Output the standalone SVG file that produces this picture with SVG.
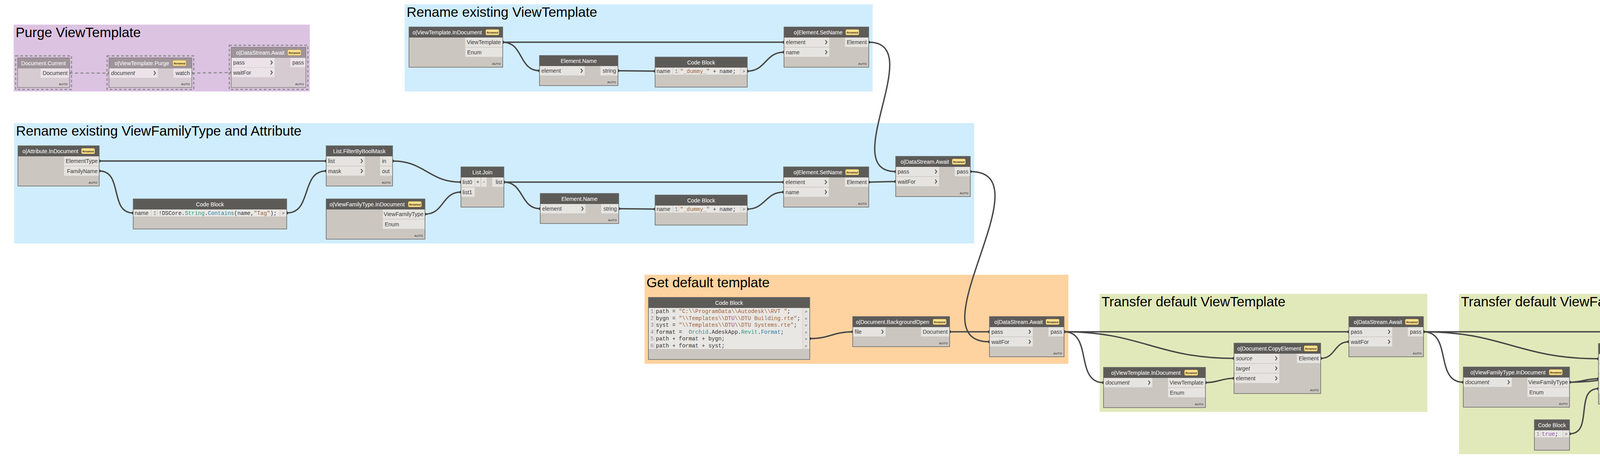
<svg xmlns="http://www.w3.org/2000/svg" width="7160" height="1218" viewBox="0 0 7160 1218">
<defs>
<marker id="k" markerWidth="10" markerHeight="10" refX="5" refY="5" markerUnits="userSpaceOnUse"><circle cx="5" cy="5" r="3.8" fill="#3a3a3a"/></marker>
<marker id="kg" markerWidth="10" markerHeight="10" refX="5" refY="5" markerUnits="userSpaceOnUse"><circle cx="5" cy="5" r="3.5" fill="#8a8a8a"/></marker>
<style>
.gP{fill:#dcc3e2}.gB{fill:#d0edfd}.gO{fill:#fed3a0}.gG{fill:#e1e9bb}
.gt{font-family:"Liberation Sans",Arial,sans-serif;font-size:35px;fill:#000}
.b{fill:#cbc6c0}.h{fill:#5d5b58}.o{fill:none;stroke:#666;stroke-width:1.5}
.p{fill:#e6e4e0}.ca{fill:#e9e7e4}
.t{font-family:"Liberation Sans",Arial,sans-serif;font-size:14px;fill:#fff}
.c{text-anchor:middle}.r{text-anchor:end}.i{font-style:italic}
.l{font-family:"Liberation Sans",Arial,sans-serif;font-size:14px;fill:#3c3c3c}
.a{font-family:"Liberation Sans",Arial,sans-serif;font-size:8px;font-weight:bold;fill:#555;text-anchor:end}
.bg{fill:#fde08c;stroke:#c9a449;stroke-width:0.8}
.bt{font-family:"Liberation Sans",Arial,sans-serif;font-size:6.5px;font-style:italic;font-weight:bold;fill:#3a3020;text-anchor:middle}
.v{fill:none;stroke:#555;stroke-width:2.2}
.m{font-family:"Liberation Mono","Courier New",monospace;font-size:14px;fill:#333}
.n{fill:#8a8a8a}.s{fill:#a0643c}.k1{fill:#2a9a8a}.k2{fill:#2b7fa8}.kw{fill:#8b4fb3}
.sp{stroke:#aaa;stroke-width:1;stroke-dasharray:2 2}
.gtx{font-family:"Liberation Sans",Arial,sans-serif;font-size:11px;fill:#555}
.fb{fill:#d6cbd1}.fh{fill:#9e9499}.fp{fill:#ebe3e8}.fo{fill:none;stroke:#857b80;stroke-width:1.5}
.sel{fill:none;stroke:#8e8e8e;stroke-width:3;stroke-dasharray:7 5}
.cn{fill:none;stroke:#464646;stroke-width:3.5;marker-start:url(#k);marker-end:url(#k)}
.dn{fill:none;stroke:#8f8f8f;stroke-width:3;stroke-dasharray:8 6;marker-start:url(#kg);marker-end:url(#kg)}
</style>
</defs>
<rect width="7160" height="1218" fill="#ffffff"/>

<g id="grp_purge"><rect class="gP" x="35" y="63" width="758" height="171"/><text class="gt" x="40" y="95">Purge ViewTemplate</text></g>
<g id="grp_rename_vt"><rect class="gB" x="1036" y="11" width="1198" height="223"/><text class="gt" x="1041" y="43">Rename existing ViewTemplate</text></g>
<g id="grp_rename_vft"><rect class="gB" x="36" y="315" width="2458" height="308"/><text class="gt" x="41" y="347">Rename existing ViewFamilyType and Attribute</text></g>
<g id="grp_get_default"><rect class="gO" x="1650" y="703" width="1085" height="228"/><text class="gt" x="1655" y="735">Get default template</text></g>
<g id="grp_transfer_vt"><rect class="gG" x="2815" y="752" width="839" height="302"/><text class="gt" x="2820" y="784">Transfer default ViewTemplate</text></g>
<g id="grp_transfer_vft"><rect class="gG" x="3735" y="752" width="920" height="410"/><text class="gt" x="3740" y="784">Transfer default ViewFamilyType</text></g>
<g id="grp_click"><rect class="gG" x="4335" y="365" width="2013" height="306"/><text class="gt" x="4340" y="397">&lt;Click here to edit the group title&gt;</text></g>
<g id="grp_transfer_attr"><rect class="gG" x="4736" y="875" width="1379" height="332"/><text class="gt" x="4741" y="907">Transfer default Attribute</text></g>
<g id="grp_close"><rect class="gO" x="6375" y="752" width="760" height="269"/><text class="gt" x="6380" y="784">Close default Template</text></g>

<g id="connectors">
<path class="dn" d="M178,187L279,187"/>
<path class="dn" d="M491,187L592,185.5"/>
<path class="cn" d="M1287,108L2007,108"/>
<path class="cn" d="M1287,108C1341,108 1327,181 1381,181"/>
<path class="cn" d="M1582,181L1677,182"/>
<path class="cn" d="M1913,182C1961,182 1959,133.5 2007,133.5"/>
<path class="cn" d="M2224,108C2376,108 2141,439 2293,439"/>
<path class="cn" d="M254,412L835,412"/>
<path class="cn" d="M254,437.5C316,437.5 279,545 341,545"/>
<path class="cn" d="M734,545C800,545 769,437.5 835,437.5"/>
<path class="cn" d="M1005,412C1087,412 1098,466 1180,466"/>
<path class="cn" d="M1088,548C1137,548 1131,491.5 1180,491.5"/>
<path class="cn" d="M1290,466L2006,466"/>
<path class="cn" d="M1290,466C1342,466 1331,534 1383,534"/>
<path class="cn" d="M1584,534L1677,535"/>
<path class="cn" d="M1913,535C1959,535 1960,491.5 2006,491.5"/>
<path class="cn" d="M2224,466L2293,464.5"/>
<path class="cn" d="M2484,439C2681,439 2336,874.5 2533,874.5"/>
<path class="cn" d="M2073,866.5C2123,866.5 2133,849 2183,849"/>
<path class="cn" d="M2431,849L2533,849"/>
<path class="cn" d="M2724,849L3453,849"/>
<path class="cn" d="M2724,849C2922,849 2961,917 3159,917"/>
<path class="cn" d="M2724,849C2798,849 2751,979 2825,979"/>
<path class="cn" d="M3086,979C3119,979 3126,968 3159,968"/>
<path class="cn" d="M3381,917C3419,917 3415,874.5 3453,874.5"/>
<path class="cn" d="M3644,849L4454,849"/>
<path class="cn" d="M3644,849C3848,849 3888,918 4092,918"/>
<path class="cn" d="M3644,849C3718,849 3672,978 3746,978"/>
<path class="cn" d="M4018,978C4051,978 4059,969 4092,969"/>
<path class="cn" d="M4018,978C4410,978 4410,596 4802,596"/>
<path class="cn" d="M4018,1110C4080,1110 4030,994.5 4092,994.5"/>
<path class="cn" d="M4381,918C4419,918 4416,874.5 4454,874.5"/>
<path class="cn" d="M4381,918C5031,918 5102,462 5752,462"/>
<path class="cn" d="M4645,849L6385,849"/>
<path class="cn" d="M4645,849C5175,849 5286,972 5816,972"/>
<path class="cn" d="M4645,849C4736,849 4654,1024 4745,1024"/>
<path class="cn" d="M5000,1024L5561,1024"/>
<path class="cn" d="M5000,1049.5C5044,1049.5 5041,1096 5085,1096"/>
<path class="cn" d="M5478,1096C5521,1096 5518,1049.5 5561,1049.5"/>
<path class="cn" d="M5732,1024L5816,1023"/>
<path class="cn" d="M5732,1155C5793,1155 5755,1048.5 5816,1048.5"/>
<path class="cn" d="M6106,972L6655,971.5"/>
<path class="cn" d="M4700,556C4754,556 4748,621.5 4802,621.5"/>
<path class="cn" d="M4700,556C5174,556 5278,487.5 5752,487.5"/>
<path class="cn" d="M5033,596L5135,596"/>
<path class="cn" d="M5349,596L5450,596"/>
<path class="cn" d="M5651,596L5752,596"/>
<path class="cn" d="M5991,596C6043,596 6040,541.5 6092,541.5"/>
<path class="cn" d="M5985,462C6039,462 6038,516 6092,516"/>
<path class="cn" d="M6338,516C6501,516 6222,874.5 6385,874.5"/>
<path class="cn" d="M6576,849C6632,849 6599,946 6655,946"/>
<path class="cn" d="M6846,946L6908,946"/>
</g>

<g id="n_document_current" transform="translate(45,148)">
<rect class="fb" width="133" height="76"/><rect class="fh" width="133" height="27"/>
<text class="t c" x="66.5" y="18.5">Document.Current</text>
<rect class="fp" x="59" y="27" width="74" height="24"/><text class="l r" x="128" y="44">Document</text>
<text class="a" x="128" y="70">AUTO</text>
<rect class="fo" width="133" height="76"/><rect class="sel" x="-5" y="-5" width="143" height="86"/>
</g>
<g id="n_viewtemplate_purge" transform="translate(279,148)">
<rect class="fb" width="212" height="76"/><rect class="fh" width="212" height="27"/>
<text class="t" x="14.5" y="18.5">o|ViewTemplate.Purge</text>
<rect class="bg" x="163.5" y="6.5" width="34" height="14" rx="3"/><text class="bt" x="180.5" y="16.5">Renamed</text>
<rect class="fp" y="27" width="125" height="24"/><text class="l i" x="5" y="44">document</text><path class="v" d="M115,34l4,5-4,5"/>
<rect class="fp" x="165" y="27" width="47" height="24"/><text class="l r" x="207" y="44">watch</text>
<text class="a" x="207" y="70">AUTO</text>
<rect class="fo" width="212" height="76"/><rect class="sel" x="-5" y="-5" width="222" height="86"/>
</g>
<g id="n_await_purge" transform="translate(592,121)">
<rect class="fb" width="191" height="103"/><rect class="fh" width="191" height="27"/>
<text class="t" x="12.5" y="18.5">o|DataStream.Await</text>
<rect class="bg" x="144.5" y="6.5" width="34" height="14" rx="3"/><text class="bt" x="161.5" y="16.5">Renamed</text>
<rect class="fp" y="27" width="111" height="24"/><text class="l" x="5" y="44">pass</text><path class="v" d="M101,34l4,5-4,5"/>
<rect class="fp" y="52.5" width="111" height="24"/><text class="l" x="5" y="69.5">waitFor</text><path class="v" d="M101,59.5l4,5-4,5"/>
<rect class="fp" x="151" y="27" width="40" height="24"/><text class="l r" x="186" y="44">pass</text>
<text class="a" x="186" y="97">AUTO</text>
<rect class="fo" width="191" height="103"/><rect class="sel" x="-5" y="-5" width="201" height="113"/>
</g>

<g id="n_vt_indocument_1" transform="translate(1047,69)">
<rect class="b" width="240" height="103"/><rect class="h" width="240" height="27"/>
<text class="t" x="9" y="18.5">o|ViewTemplate.InDocument</text>
<rect class="bg" x="196.5" y="6.5" width="34" height="14" rx="3"/><text class="bt" x="213.5" y="16.5">Renamed</text>
<rect class="p" x="144" y="27" width="96" height="24"/><text class="l r" x="235" y="44">ViewTemplate</text>
<rect class="p" x="144" y="52.5" width="96" height="24"/><text class="l" x="149" y="69.5">Enum</text>
<text class="a" x="235" y="97">AUTO</text>
<rect class="o" width="240" height="103"/>
</g>
<g id="n_element_name_1" transform="translate(1381,142)">
<rect class="b" width="201" height="77"/><rect class="h" width="201" height="27"/>
<text class="t c" x="100.5" y="18.5">Element.Name</text>
<rect class="p" y="27" width="116" height="24"/><text class="l" x="5" y="44">element</text><path class="v" d="M106,34l4,5-4,5"/>
<rect class="p" x="156" y="27" width="45" height="24"/><text class="l r" x="196" y="44">string</text>
<text class="a" x="196" y="71">AUTO</text>
<rect class="o" width="201" height="77"/>
</g>
<g id="n_codeblock_1" transform="translate(1677,146)">
<rect class="b" width="236" height="77"/><rect class="h" width="236" height="27"/>
<text class="t c" x="118" y="18.5">Code Block</text>
<rect class="p" y="27" width="45" height="18"/><text class="l" x="4" y="41">name</text>
<rect class="ca" x="46" y="27" width="172" height="18"/>
<text class="m n" x="50" y="41">1</text><line class="sp" x1="61" y1="28" x2="61" y2="44"/>
<text class="m" x="64" y="41" xml:space="preserve"><tspan class="s">"_dummy_"</tspan> + name;</text>
<rect class="p" x="219" y="27" width="17" height="18"/><text class="gtx" x="224" y="40">&gt;</text>
<rect class="o" width="236" height="77"/>
</g>
<g id="n_setname_1" transform="translate(2007,69)">
<rect class="b" width="217" height="103"/><rect class="h" width="217" height="27"/>
<text class="t" x="25" y="18.5">o|Element.SetName</text>
<rect class="bg" x="158" y="6.5" width="34" height="14" rx="3"/><text class="bt" x="175" y="16.5">Renamed</text>
<rect class="p" y="27" width="116" height="24"/><text class="l" x="5" y="44">element</text><path class="v" d="M106,34l4,5-4,5"/>
<rect class="p" y="52.5" width="116" height="24"/><text class="l" x="5" y="69.5">name</text><path class="v" d="M106,59.5l4,5-4,5"/>
<rect class="p" x="156" y="27" width="61" height="24"/><text class="l r" x="212" y="44">Element</text>
<text class="a" x="212" y="97">AUTO</text>
<rect class="o" width="217" height="103"/>
</g>

<g id="n_attr_indocument_1" transform="translate(46,373)">
<rect class="b" width="208" height="103"/><rect class="h" width="208" height="27"/>
<text class="t" x="11.5" y="18.5">o|Attribute.InDocument</text>
<rect class="bg" x="162.5" y="6.5" width="34" height="14" rx="3"/><text class="bt" x="179.5" y="16.5">Renamed</text>
<rect class="p" x="118" y="27" width="90" height="24"/><text class="l r" x="204" y="44">ElementType</text>
<rect class="p" x="118" y="52.5" width="90" height="24"/><text class="l r" x="204" y="69.5">FamilyName</text>
<text class="a" x="203" y="97">AUTO</text>
<rect class="o" width="208" height="103"/>
</g>
<g id="n_codeblock_2" transform="translate(341,509)">
<rect class="b" width="393" height="77"/><rect class="h" width="393" height="27"/>
<text class="t c" x="196.5" y="18.5">Code Block</text>
<rect class="p" y="27" width="46" height="18"/><text class="l" x="4" y="41">name</text>
<rect class="ca" x="47" y="27" width="328" height="18"/>
<text class="m n" x="51" y="41">1</text><line class="sp" x1="62" y1="28" x2="62" y2="44"/>
<text class="m" x="65" y="41">!DSCore.<tspan class="k1">String</tspan>.<tspan class="k2">Contains</tspan>(name,<tspan class="s">"Tag"</tspan>);</text>
<rect class="p" x="376" y="27" width="17" height="18"/><text class="gtx" x="381" y="40">&gt;</text>
<rect class="o" width="393" height="77"/>
</g>
<g id="n_filterbyboolmask_1" transform="translate(835,373)">
<rect class="b" width="170" height="103"/><rect class="h" width="170" height="27"/>
<text class="t c" x="85" y="18.5">List.FilterByBoolMask</text>
<rect class="p" y="27" width="99" height="24"/><text class="l" x="5" y="44">list</text><path class="v" d="M89,34l4,5-4,5"/>
<rect class="p" y="52.5" width="99" height="24"/><text class="l" x="5" y="69.5">mask</text><path class="v" d="M89,59.5l4,5-4,5"/>
<rect class="p" x="138" y="27" width="32" height="24"/><text class="l" x="143" y="44">in</text>
<rect class="p" x="138" y="52.5" width="32" height="24"/><text class="l" x="143" y="69.5">out</text>
<text class="a" x="165" y="97">AUTO</text>
<rect class="o" width="170" height="103"/>
</g>
<g id="n_vft_indocument_1" transform="translate(835,509)">
<rect class="b" width="253" height="103"/><rect class="h" width="253" height="27"/>
<text class="t" x="8.75" y="18.5">o|ViewFamilyType.InDocument</text>
<rect class="bg" x="210" y="6.5" width="34" height="14" rx="3"/><text class="bt" x="227" y="16.5">Renamed</text>
<rect class="p" x="145" y="27" width="108" height="24"/><text class="l r" x="249" y="44">ViewFamilyType</text>
<rect class="p" x="145" y="52.5" width="108" height="24"/><text class="l" x="150" y="69.5">Enum</text>
<text class="a" x="248" y="97">AUTO</text>
<rect class="o" width="253" height="103"/>
</g>
<g id="n_list_join" transform="translate(1180,427)">
<rect class="b" width="110" height="103"/><rect class="h" width="110" height="27"/>
<text class="t c" x="55" y="18.5">List.Join</text>
<rect class="p" y="27" width="35" height="24"/><text class="l" x="4" y="44">list0</text>
<rect class="p" x="36" y="27" width="14" height="24"/><text class="l c" x="43" y="43">+</text>
<rect class="p" x="52" y="27" width="14" height="24"/><text class="l c" x="59" y="43">-</text>
<rect class="p" y="52.5" width="35" height="24"/><text class="l" x="4" y="69.5">list1</text>
<rect class="p" x="80" y="27" width="30" height="24"/><text class="l r" x="106" y="44">list</text>
<rect class="o" width="110" height="103"/>
</g>
<g id="n_element_name_2" transform="translate(1383,495)">
<rect class="b" width="201" height="77"/><rect class="h" width="201" height="27"/>
<text class="t c" x="100.5" y="18.5">Element.Name</text>
<rect class="p" y="27" width="116" height="24"/><text class="l" x="5" y="44">element</text><path class="v" d="M106,34l4,5-4,5"/>
<rect class="p" x="156" y="27" width="45" height="24"/><text class="l r" x="196" y="44">string</text>
<text class="a" x="196" y="71">AUTO</text>
<rect class="o" width="201" height="77"/>
</g>
<g id="n_codeblock_3" transform="translate(1677,499)">
<rect class="b" width="236" height="77"/><rect class="h" width="236" height="27"/>
<text class="t c" x="118" y="18.5">Code Block</text>
<rect class="p" y="27" width="45" height="18"/><text class="l" x="4" y="41">name</text>
<rect class="ca" x="46" y="27" width="172" height="18"/>
<text class="m n" x="50" y="41">1</text><line class="sp" x1="61" y1="28" x2="61" y2="44"/>
<text class="m" x="64" y="41" xml:space="preserve"><tspan class="s">"_dummy_"</tspan> + name;</text>
<rect class="p" x="219" y="27" width="17" height="18"/><text class="gtx" x="224" y="40">&gt;</text>
<rect class="o" width="236" height="77"/>
</g>
<g id="n_setname_2" transform="translate(2006,427)">
<rect class="b" width="218" height="103"/><rect class="h" width="218" height="27"/>
<text class="t" x="25.5" y="18.5">o|Element.SetName</text>
<rect class="bg" x="158.5" y="6.5" width="34" height="14" rx="3"/><text class="bt" x="175.5" y="16.5">Renamed</text>
<rect class="p" y="27" width="116" height="24"/><text class="l" x="5" y="44">element</text><path class="v" d="M106,34l4,5-4,5"/>
<rect class="p" y="52.5" width="116" height="24"/><text class="l" x="5" y="69.5">name</text><path class="v" d="M106,59.5l4,5-4,5"/>
<rect class="p" x="157" y="27" width="61" height="24"/><text class="l r" x="213" y="44">Element</text>
<text class="a" x="213" y="97">AUTO</text>
<rect class="o" width="218" height="103"/>
</g>
<g id="n_await_1" transform="translate(2293,400)">
<rect class="b" width="191" height="103"/><rect class="h" width="191" height="27"/>
<text class="t" x="12.5" y="18.5">o|DataStream.Await</text>
<rect class="bg" x="144.5" y="6.5" width="34" height="14" rx="3"/><text class="bt" x="161.5" y="16.5">Renamed</text>
<rect class="p" y="27" width="111" height="24"/><text class="l" x="5" y="44">pass</text><path class="v" d="M101,34l4,5-4,5"/>
<rect class="p" y="52.5" width="111" height="24"/><text class="l" x="5" y="69.5">waitFor</text><path class="v" d="M101,59.5l4,5-4,5"/>
<rect class="p" x="151" y="27" width="40" height="24"/><text class="l r" x="186" y="44">pass</text>
<text class="a" x="186" y="97">AUTO</text>
<rect class="o" width="191" height="103"/>
</g>

<g id="n_codeblock_paths" transform="translate(1660,761)">
<rect class="b" width="413" height="159"/><rect class="h" width="413" height="27"/>
<text class="t c" x="206.5" y="18.5">Code Block</text>
<rect class="ca" y="27" width="394" height="105"/>
<rect class="p" x="395" y="27" width="18" height="17"/><text class="gtx" x="400" y="40">&gt;</text>
<rect class="p" x="395" y="44.5" width="18" height="17"/><text class="gtx" x="400" y="57.5">&gt;</text>
<rect class="p" x="395" y="62" width="18" height="17"/><text class="gtx" x="400" y="75">&gt;</text>
<rect class="p" x="395" y="79.5" width="18" height="17"/><text class="gtx" x="400" y="92.5">&gt;</text>
<rect class="p" x="395" y="97" width="18" height="17"/><text class="gtx" x="400" y="110">&gt;</text>
<rect class="p" x="395" y="114.5" width="18" height="17"/><text class="gtx" x="400" y="127.5">&gt;</text>
<line class="sp" x1="16" y1="28" x2="16" y2="131"/>
<text class="m n" x="5" y="40">1</text>
<text class="m n" x="5" y="57.5">2</text>
<text class="m n" x="5" y="75">3</text>
<text class="m n" x="5" y="92.5">4</text>
<text class="m n" x="5" y="110">5</text>
<text class="m n" x="5" y="127.5">6</text>
<text class="m" x="19" y="40" xml:space="preserve">path = <tspan class="s">"C:\\ProgramData\\Autodesk\\RVT "</tspan>;</text>
<text class="m" x="19" y="57.5" xml:space="preserve">bygn = <tspan class="s">"\\Templates\\DTU\\DTU Building.rte"</tspan>;</text>
<text class="m" x="19" y="75" xml:space="preserve">syst = <tspan class="s">"\\Templates\\DTU\\DTU Systems.rte"</tspan>;</text>
<text class="m" x="19" y="92.5" xml:space="preserve">format =  <tspan class="k1">Orchid</tspan>.AdeskApp.<tspan class="k1">Revit</tspan>.<tspan class="k2">Format</tspan>;</text>
<text class="m" x="19" y="110" xml:space="preserve">path + format + bygn;</text>
<text class="m" x="19" y="127.5" xml:space="preserve">path + format + syst;</text>
<rect class="o" width="413" height="159"/>
</g>
<g id="n_backgroundopen" transform="translate(2183,810)">
<rect class="b" width="248" height="77"/><rect class="h" width="248" height="27"/>
<text class="t" x="8" y="18.5">o|Document.BackgroundOpen</text>
<rect class="bg" x="205.5" y="6.5" width="34" height="14" rx="3"/><text class="bt" x="222.5" y="16.5">Renamed</text>
<rect class="p" y="27" width="84" height="24"/><text class="l" x="5" y="44">file</text><path class="v" d="M74,34l4,5-4,5"/>
<rect class="p" x="175" y="27" width="73" height="24"/><text class="l r" x="243" y="44">Document</text>
<text class="a" x="243" y="71">AUTO</text>
<rect class="o" width="248" height="77"/>
</g>
<g id="n_await_2" transform="translate(2533,810)">
<rect class="b" width="191" height="103"/><rect class="h" width="191" height="27"/>
<text class="t" x="12.5" y="18.5">o|DataStream.Await</text>
<rect class="bg" x="144.5" y="6.5" width="34" height="14" rx="3"/><text class="bt" x="161.5" y="16.5">Renamed</text>
<rect class="p" y="27" width="111" height="24"/><text class="l" x="5" y="44">pass</text><path class="v" d="M101,34l4,5-4,5"/>
<rect class="p" y="52.5" width="111" height="24"/><text class="l" x="5" y="69.5">waitFor</text><path class="v" d="M101,59.5l4,5-4,5"/>
<rect class="p" x="151" y="27" width="40" height="24"/><text class="l r" x="186" y="44">pass</text>
<text class="a" x="186" y="97">AUTO</text>
<rect class="o" width="191" height="103"/>
</g>

<g id="n_vt_indocument_2" transform="translate(2825,940)">
<rect class="b" width="261" height="103"/><rect class="h" width="261" height="27"/>
<text class="t" x="19.75" y="18.5">o|ViewTemplate.InDocument</text>
<rect class="bg" x="207.25" y="6.5" width="34" height="14" rx="3"/><text class="bt" x="224.25" y="16.5">Renamed</text>
<rect class="p" y="27" width="125" height="24"/><text class="l i" x="5" y="44">document</text><path class="v" d="M115,34l4,5-4,5"/>
<rect class="p" x="165" y="27" width="96" height="24"/><text class="l r" x="256" y="44">ViewTemplate</text>
<rect class="p" x="165" y="52.5" width="96" height="24"/><text class="l" x="170" y="69.5">Enum</text>
<text class="a" x="256" y="97">AUTO</text>
<rect class="o" width="261" height="103"/>
</g>
<g id="n_copyelement" transform="translate(3159,878)">
<rect class="b" width="222" height="129"/><rect class="h" width="222" height="27"/>
<text class="t" x="8.5" y="18.5">o|Document.CopyElement</text>
<rect class="bg" x="179.5" y="6.5" width="34" height="14" rx="3"/><text class="bt" x="196.5" y="16.5">Renamed</text>
<rect class="p" y="27" width="116" height="24"/><text class="l i" x="5" y="44">source</text><path class="v" d="M106,34l4,5-4,5"/>
<rect class="p" y="52.5" width="116" height="24"/><text class="l i" x="5" y="69.5">target</text><path class="v" d="M106,59.5l4,5-4,5"/>
<rect class="p" y="78" width="116" height="24"/><text class="l" x="5" y="95">element</text><path class="v" d="M106,85l4,5-4,5"/>
<rect class="p" x="161" y="27" width="61" height="24"/><text class="l r" x="217" y="44">Element</text>
<text class="a" x="217" y="123">AUTO</text>
<rect class="o" width="222" height="129"/>
</g>
<g id="n_await_3" transform="translate(3453,810)">
<rect class="b" width="191" height="103"/><rect class="h" width="191" height="27"/>
<text class="t" x="12.5" y="18.5">o|DataStream.Await</text>
<rect class="bg" x="144.5" y="6.5" width="34" height="14" rx="3"/><text class="bt" x="161.5" y="16.5">Renamed</text>
<rect class="p" y="27" width="111" height="24"/><text class="l" x="5" y="44">pass</text><path class="v" d="M101,34l4,5-4,5"/>
<rect class="p" y="52.5" width="111" height="24"/><text class="l" x="5" y="69.5">waitFor</text><path class="v" d="M101,59.5l4,5-4,5"/>
<rect class="p" x="151" y="27" width="40" height="24"/><text class="l r" x="186" y="44">pass</text>
<text class="a" x="186" y="97">AUTO</text>
<rect class="o" width="191" height="103"/>
</g>

<g id="n_vft_indocument_2" transform="translate(3746,939)">
<rect class="b" width="272" height="103"/><rect class="h" width="272" height="27"/>
<text class="t" x="18.25" y="18.5">o|ViewFamilyType.InDocument</text>
<rect class="bg" x="219.75" y="6.5" width="34" height="14" rx="3"/><text class="bt" x="236.75" y="16.5">Renamed</text>
<rect class="p" y="27" width="124" height="24"/><text class="l i" x="5" y="44">document</text><path class="v" d="M114,34l4,5-4,5"/>
<rect class="p" x="164" y="27" width="108" height="24"/><text class="l r" x="268" y="44">ViewFamilyType</text>
<rect class="p" x="164" y="52.5" width="108" height="24"/><text class="l" x="169" y="69.5">Enum</text>
<text class="a" x="267" y="97">AUTO</text>
<rect class="o" width="272" height="103"/>
</g>
<g id="n_transferbyelementtype_1" transform="translate(4092,879)">
<rect class="b" width="289" height="155"/><rect class="h" width="289" height="27"/>
<text class="t" x="8.5" y="18.5">o|Document.TransferByElementType</text>
<rect class="bg" x="246.5" y="6.5" width="34" height="14" rx="3"/><text class="bt" x="263.5" y="16.5">Renamed</text>
<rect class="p" y="27" width="145" height="24"/><text class="l i" x="5" y="44">source</text><path class="v" d="M135,34l4,5-4,5"/>
<rect class="p" y="52.5" width="145" height="24"/><text class="l i" x="5" y="69.5">target</text><path class="v" d="M135,59.5l4,5-4,5"/>
<rect class="p" y="78" width="145" height="24"/><text class="l" x="5" y="95">elementType</text><path class="v" d="M135,85l4,5-4,5"/>
<rect class="p" y="103.5" width="145" height="24"/><text class="l i" x="5" y="120.5">append</text><path class="v" d="M135,110.5l4,5-4,5"/>
<rect class="p" x="199" y="27" width="90" height="24"/><text class="l r" x="284" y="44">ElementType</text>
<text class="a" x="284" y="149">AUTO</text>
<rect class="o" width="289" height="155"/>
</g>
<g id="n_codeblock_true_1" transform="translate(3928,1074)">
<rect class="b" width="90" height="78"/><rect class="h" width="90" height="27"/>
<text class="t c" x="45" y="18.5">Code Block</text>
<rect class="ca" y="27" width="72" height="18"/>
<text class="m n" x="5" y="41">1</text><line class="sp" x1="16" y1="28" x2="16" y2="44"/>
<text class="m" x="19" y="41"><tspan class="kw">true</tspan>;</text>
<rect class="p" x="73" y="27" width="17" height="18"/><text class="gtx" x="78" y="40">&gt;</text>
<rect class="o" width="90" height="78"/>
</g>
<g id="n_await_4" transform="translate(4454,810)">
<rect class="b" width="191" height="103"/><rect class="h" width="191" height="27"/>
<text class="t" x="12.5" y="18.5">o|DataStream.Await</text>
<rect class="bg" x="144.5" y="6.5" width="34" height="14" rx="3"/><text class="bt" x="161.5" y="16.5">Renamed</text>
<rect class="p" y="27" width="111" height="24"/><text class="l" x="5" y="44">pass</text><path class="v" d="M101,34l4,5-4,5"/>
<rect class="p" y="52.5" width="111" height="24"/><text class="l" x="5" y="69.5">waitFor</text><path class="v" d="M101,59.5l4,5-4,5"/>
<rect class="p" x="151" y="27" width="40" height="24"/><text class="l r" x="186" y="44">pass</text>
<text class="a" x="186" y="97">AUTO</text>
<rect class="o" width="191" height="103"/>
</g>

<g id="n_codeblock_paramname" transform="translate(4345,520)">
<rect class="b" width="355" height="77"/><rect class="h" width="355" height="27"/>
<text class="t c" x="177.5" y="18.5">Code Block</text>
<rect class="ca" y="27" width="336" height="18"/>
<text class="m n" x="5" y="41">1</text><line class="sp" x1="16" y1="28" x2="16" y2="44"/>
<text class="m" x="19" y="41"><tspan class="s">"View Template applied to new views"</tspan>;</text>
<rect class="p" x="337" y="27" width="18" height="18"/><text class="gtx" x="342" y="40">&gt;</text>
<rect class="o" width="355" height="77"/>
</g>
<g id="n_parameter_byname_1" transform="translate(4802,557)">
<rect class="b" width="231" height="103"/><rect class="h" width="231" height="27"/>
<text class="t" x="27.5" y="18.5">o|Parameter.ByName</text>
<rect class="bg" x="169.5" y="6.5" width="34" height="14" rx="3"/><text class="bt" x="186.5" y="16.5">Renamed</text>
<rect class="p" y="27" width="116" height="24"/><text class="l" x="5" y="44">element</text><path class="v" d="M106,34l4,5-4,5"/>
<rect class="p" y="52.5" width="116" height="24"/><text class="l" x="5" y="69.5">name</text><path class="v" d="M106,59.5l4,5-4,5"/>
<rect class="p" x="156" y="27" width="75" height="24"/><text class="l r" x="226" y="44">Parameter</text>
<text class="a" x="226" y="97">AUTO</text>
<rect class="o" width="231" height="103"/>
</g>
<g id="n_parameter_getvalue" transform="translate(5135,557)">
<rect class="b" width="214" height="77"/><rect class="h" width="214" height="27"/>
<text class="t" x="16.5" y="18.5">o|Parameter.GetValue</text>
<rect class="bg" x="163.5" y="6.5" width="34" height="14" rx="3"/><text class="bt" x="180.5" y="16.5">Renamed</text>
<rect class="p" y="27" width="130" height="24"/><text class="l" x="5" y="44">parameter</text><path class="v" d="M120,34l4,5-4,5"/>
<rect class="p" x="170" y="27" width="44" height="24"/><text class="l r" x="209" y="44">value</text>
<text class="a" x="209" y="71">AUTO</text>
<rect class="o" width="214" height="77"/>
</g>
<g id="n_element_name_3" transform="translate(5450,557)">
<rect class="b" width="201" height="77"/><rect class="h" width="201" height="27"/>
<text class="t c" x="100.5" y="18.5">Element.Name</text>
<rect class="p" y="27" width="116" height="24"/><text class="l" x="5" y="44">element</text><path class="v" d="M106,34l4,5-4,5"/>
<rect class="p" x="156" y="27" width="45" height="24"/><text class="l r" x="196" y="44">string</text>
<text class="a" x="196" y="71">AUTO</text>
<rect class="o" width="201" height="77"/>
</g>
<g id="n_viewtemplate_byname" transform="translate(5752,557)">
<rect class="b" width="239" height="77"/><rect class="h" width="239" height="27"/>
<text class="t" x="19.5" y="18.5">o|ViewTemplate.ByName</text>
<rect class="bg" x="185.5" y="6.5" width="34" height="14" rx="3"/><text class="bt" x="202.5" y="16.5">Renamed</text>
<rect class="p" y="27" width="100" height="24"/><text class="l" x="5" y="44">name</text><path class="v" d="M90,34l4,5-4,5"/>
<rect class="p" x="142" y="27" width="97" height="24"/><text class="l r" x="234" y="44">ViewTemplate</text>
<text class="a" x="234" y="71">AUTO</text>
<rect class="o" width="239" height="77"/>
</g>
<g id="n_parameter_byname_2" transform="translate(5752,423)">
<rect class="b" width="233" height="103"/><rect class="h" width="233" height="27"/>
<text class="t" x="28.5" y="18.5">o|Parameter.ByName</text>
<rect class="bg" x="170.5" y="6.5" width="34" height="14" rx="3"/><text class="bt" x="187.5" y="16.5">Renamed</text>
<rect class="p" y="27" width="117" height="24"/><text class="l" x="5" y="44">element</text><path class="v" d="M107,34l4,5-4,5"/>
<rect class="p" y="52.5" width="117" height="24"/><text class="l" x="5" y="69.5">name</text><path class="v" d="M107,59.5l4,5-4,5"/>
<rect class="p" x="157" y="27" width="76" height="24"/><text class="l r" x="228" y="44">Parameter</text>
<text class="a" x="228" y="97">AUTO</text>
<rect class="o" width="233" height="103"/>
</g>
<g id="n_parameter_setvalue" transform="translate(6092,477)">
<rect class="b" width="246" height="103"/><rect class="h" width="246" height="27"/>
<text class="t" x="33.25" y="18.5">o|Parameter.SetValue</text>
<rect class="bg" x="178.75" y="6.5" width="34" height="14" rx="3"/><text class="bt" x="195.75" y="16.5">Renamed</text>
<rect class="p" y="27" width="130" height="24"/><text class="l" x="5" y="44">parameter</text><path class="v" d="M120,34l4,5-4,5"/>
<rect class="p" y="52.5" width="130" height="24"/><text class="l" x="5" y="69.5">value</text><path class="v" d="M120,59.5l4,5-4,5"/>
<rect class="p" x="170" y="27" width="76" height="24"/><text class="l r" x="241" y="44">Parameter</text>
<text class="a" x="241" y="97">AUTO</text>
<rect class="o" width="246" height="103"/>
</g>

<g id="n_attr_indocument_2" transform="translate(4745,985)">
<rect class="b" width="255" height="103"/><rect class="h" width="255" height="27"/>
<text class="t" x="35" y="18.5">o|Attribute.InDocument</text>
<rect class="bg" x="186" y="6.5" width="34" height="14" rx="3"/><text class="bt" x="203" y="16.5">Renamed</text>
<rect class="p" y="27" width="125" height="24"/><text class="l i" x="5" y="44">document</text><path class="v" d="M115,34l4,5-4,5"/>
<rect class="p" x="165" y="27" width="90" height="24"/><text class="l r" x="251" y="44">ElementType</text>
<rect class="p" x="165" y="52.5" width="90" height="24"/><text class="l r" x="251" y="69.5">FamilyName</text>
<text class="a" x="250" y="97">AUTO</text>
<rect class="o" width="255" height="103"/>
</g>
<g id="n_codeblock_4" transform="translate(5085,1060)">
<rect class="b" width="393" height="77"/><rect class="h" width="393" height="27"/>
<text class="t c" x="196.5" y="18.5">Code Block</text>
<rect class="p" y="27" width="46" height="18"/><text class="l" x="4" y="41">name</text>
<rect class="ca" x="47" y="27" width="327" height="18"/>
<text class="m n" x="51" y="41">1</text><line class="sp" x1="62" y1="28" x2="62" y2="44"/>
<text class="m" x="65" y="41">!DSCore.<tspan class="k1">String</tspan>.<tspan class="k2">Contains</tspan>(name,<tspan class="s">"Tag"</tspan>);</text>
<rect class="p" x="375" y="27" width="18" height="18"/><text class="gtx" x="380" y="40">&gt;</text>
<rect class="o" width="393" height="77"/>
</g>
<g id="n_filterbyboolmask_2" transform="translate(5561,985)">
<rect class="b" width="171" height="103"/><rect class="h" width="171" height="27"/>
<text class="t c" x="85.5" y="18.5">List.FilterByBoolMask</text>
<rect class="p" y="27" width="99" height="24"/><text class="l" x="5" y="44">list</text><path class="v" d="M89,34l4,5-4,5"/>
<rect class="p" y="52.5" width="99" height="24"/><text class="l" x="5" y="69.5">mask</text><path class="v" d="M89,59.5l4,5-4,5"/>
<rect class="p" x="139" y="27" width="32" height="24"/><text class="l" x="144" y="44">in</text>
<rect class="p" x="139" y="52.5" width="32" height="24"/><text class="l" x="144" y="69.5">out</text>
<text class="a" x="166" y="97">AUTO</text>
<rect class="o" width="171" height="103"/>
</g>
<g id="n_codeblock_true_2" transform="translate(5640,1119)">
<rect class="b" width="92" height="78"/><rect class="h" width="92" height="27"/>
<text class="t c" x="46" y="18.5">Code Block</text>
<rect class="ca" y="27" width="74" height="18"/>
<text class="m n" x="5" y="41">1</text><line class="sp" x1="16" y1="28" x2="16" y2="44"/>
<text class="m" x="19" y="41"><tspan class="kw">true</tspan>;</text>
<rect class="p" x="75" y="27" width="17" height="18"/><text class="gtx" x="80" y="40">&gt;</text>
<rect class="o" width="92" height="78"/>
</g>
<g id="n_transferbyelementtype_2" transform="translate(5816,933)">
<rect class="b" width="290" height="155"/><rect class="h" width="290" height="27"/>
<text class="t" x="9" y="18.5">o|Document.TransferByElementType</text>
<rect class="bg" x="247" y="6.5" width="34" height="14" rx="3"/><text class="bt" x="264" y="16.5">Renamed</text>
<rect class="p" y="27" width="145" height="24"/><text class="l i" x="5" y="44">source</text><path class="v" d="M135,34l4,5-4,5"/>
<rect class="p" y="52.5" width="145" height="24"/><text class="l i" x="5" y="69.5">target</text><path class="v" d="M135,59.5l4,5-4,5"/>
<rect class="p" y="78" width="145" height="24"/><text class="l" x="5" y="95">elementType</text><path class="v" d="M135,85l4,5-4,5"/>
<rect class="p" y="103.5" width="145" height="24"/><text class="l i" x="5" y="120.5">append</text><path class="v" d="M135,110.5l4,5-4,5"/>
<rect class="p" x="199" y="27" width="91" height="24"/><text class="l r" x="285" y="44">ElementType</text>
<text class="a" x="285" y="149">AUTO</text>
<rect class="o" width="290" height="155"/>
</g>

<g id="n_await_5" transform="translate(6385,810)">
<rect class="b" width="191" height="103"/><rect class="h" width="191" height="27"/>
<text class="t" x="12.5" y="18.5">o|DataStream.Await</text>
<rect class="bg" x="144.5" y="6.5" width="34" height="14" rx="3"/><text class="bt" x="161.5" y="16.5">Renamed</text>
<rect class="p" y="27" width="111" height="24"/><text class="l" x="5" y="44">pass</text><path class="v" d="M101,34l4,5-4,5"/>
<rect class="p" y="52.5" width="111" height="24"/><text class="l" x="5" y="69.5">waitFor</text><path class="v" d="M101,59.5l4,5-4,5"/>
<rect class="p" x="151" y="27" width="40" height="24"/><text class="l r" x="186" y="44">pass</text>
<text class="a" x="186" y="97">AUTO</text>
<rect class="o" width="191" height="103"/>
</g>
<g id="n_await_6" transform="translate(6655,907)">
<rect class="b" width="191" height="103"/><rect class="h" width="191" height="27"/>
<text class="t" x="12.5" y="18.5">o|DataStream.Await</text>
<rect class="bg" x="144.5" y="6.5" width="34" height="14" rx="3"/><text class="bt" x="161.5" y="16.5">Renamed</text>
<rect class="p" y="27" width="111" height="24"/><text class="l" x="5" y="44">pass</text><path class="v" d="M101,34l4,5-4,5"/>
<rect class="p" y="52.5" width="111" height="24"/><text class="l" x="5" y="69.5">waitFor</text><path class="v" d="M101,59.5l4,5-4,5"/>
<rect class="p" x="151" y="27" width="40" height="24"/><text class="l r" x="186" y="44">pass</text>
<text class="a" x="186" y="97">AUTO</text>
<rect class="o" width="191" height="103"/>
</g>
<g id="n_document_close" transform="translate(6908,907)">
<rect class="b" width="216" height="103"/><rect class="h" width="216" height="27"/>
<text class="t" x="29.5" y="18.5">o|Document.Close</text>
<rect class="bg" x="152.5" y="6.5" width="34" height="14" rx="3"/><text class="bt" x="169.5" y="16.5">Renamed</text>
<rect class="p" y="27" width="129" height="24"/><text class="l" x="5" y="44">document</text><path class="v" d="M119,34l4,5-4,5"/>
<rect class="p" y="52.5" width="129" height="24"/><text class="l i" x="5" y="69.5">save</text><path class="v" d="M119,59.5l4,5-4,5"/>
<rect class="p" x="169" y="27" width="47" height="24"/><text class="l r" x="211" y="44">watch</text>
<text class="a" x="211" y="97">AUTO</text>
<rect class="o" width="216" height="103"/>
</g>
</svg>
